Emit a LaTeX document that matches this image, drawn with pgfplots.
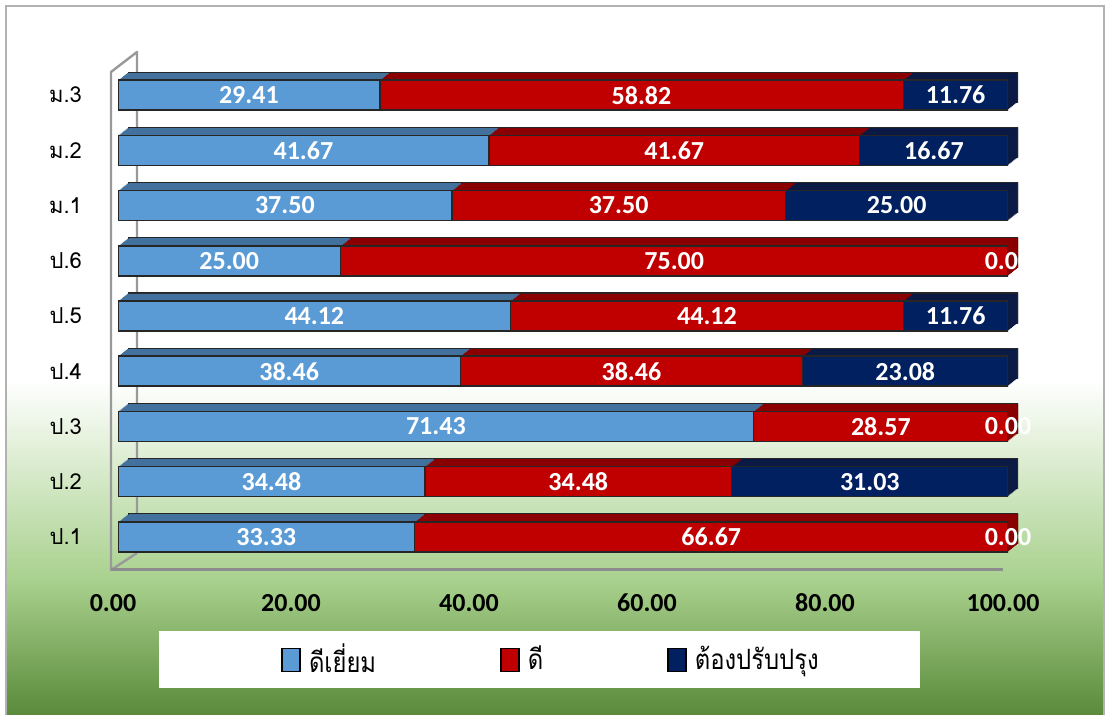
\documentclass[border=0pt]{standalone}
\usepackage{pgfplots}
\pgfplotsset{compat=1.18}
\usepackage{pgfplotstable}
\usepackage{fontspec}
\setmainfont{Carlito}
\newfontfamily\thai[Script=Thai]{Loma}
\newfontfamily\thaileg[Script=Thai,FakeStretch=0.85]{Loma}
\definecolor{cBlue}{HTML}{5B9BD5}
\definecolor{cRed}{HTML}{C00000}
\definecolor{cNavy}{HTML}{002060}
\definecolor{dBlue}{HTML}{41719C}
\definecolor{dRed}{HTML}{8A0000}
\definecolor{dNavy}{HTML}{0B1A44}
\definecolor{gLight}{HTML}{A9D18E}
\definecolor{gDark}{HTML}{5A8A3A}
\pgfplotstableread{
cat ex good imp
0 33.33 66.67 0.00
1 34.48 34.48 31.03
2 71.43 28.57 0.00
3 38.46 38.46 23.08
4 44.12 44.12 11.76
5 25.00 75.00 0.00
6 37.50 37.50 25.00
7 41.67 41.67 16.67
8 29.41 58.82 11.76
}\datatable
% label positions: middle of each segment
\pgfplotstableread{
x y lab
16.665 0 33.33
66.665 0 66.67
100 0 0.00
17.24 1 34.48
51.72 1 34.48
84.475 1 31.03
35.715 2 71.43
85.715 2 28.57
100 2 0.00
19.23 3 38.46
57.69 3 38.46
88.46 3 23.08
22.06 4 44.12
66.18 4 44.12
94.12 4 11.76
12.5 5 25.00
62.5 5 75.00
100 5 0.00
18.75 6 37.50
56.25 6 37.50
87.5 6 25.00
20.835 7 41.67
62.505 7 41.67
91.675 7 16.67
14.705 8 29.41
58.82 8 58.82
94.11 8 11.76
}\labtable
\pgfplotsset{
  base/.style={width=445pt,height=254pt,scale only axis,
    xmin=0,xmax=100,ymin=-0.6,ymax=8.6},
  bars/.style={base,xbar stacked,bar width=15pt},
}
\begin{document}
\begin{tikzpicture}[x=1pt,y=1pt]
\path[use as bounding box] (0,0) rectangle (555,357.5);
\fill[white] (0,0) rectangle (555,357.5);
\fill[top color=white,bottom color=gLight] (3,167.5) rectangle (552,67.5);
\fill[top color=gLight,bottom color=gDark] (3,67.6) rectangle (552,0);
\draw[black!30,line width=0.6pt] (3,0) -- (3,354.5) -- (552,354.5) -- (552,0);
% walls and floor
\draw[black!40,line width=1.2pt,line join=round] (68.5,81) -- (68.5,331.5) -- (55.5,321.5) -- (55.5,72.5) -- (68.5,81);
\draw[black!45,line width=1.5pt] (55.5,72.5) -- (501.5,72.5);
% legend box
\fill[white] (79.5,42) rectangle (460,13.5);
% depth of the bars (back copies)
\begin{axis}[bars,hide axis,at={(64pt,76.5pt)},anchor=south west]
\addplot[fill=dBlue,draw=black!85,line width=0.6pt] table[x=ex,y=cat]{\datatable};
\addplot[fill=dRed,draw=black!85,line width=0.6pt] table[x=good,y=cat]{\datatable};
\addplot[fill=dNavy,draw=black!85,line width=0.6pt] table[x=imp,y=cat]{\datatable};
\end{axis}
\foreach \k in {7,6,5,4,3,2,1}{
\begin{axis}[bars,hide axis,at={({59pt+0.625pt*\k},{72.5pt+0.5pt*\k})},anchor=south west]
\addplot[fill=dBlue,draw=none] table[x=ex,y=cat]{\datatable};
\addplot[fill=dRed,draw=none] table[x=good,y=cat]{\datatable};
\addplot[fill=dNavy,draw=none] table[x=imp,y=cat]{\datatable};
\end{axis}
}
% front faces
\begin{axis}[bars,at={(59pt,72.5pt)},anchor=south west,
  axis line style={draw=none},major tick length=0pt,
  xtick={0,20,40,60,80,100},ytick={0,1,2,3,4,5,6,7,8},
  yticklabels={ป.1,ป.2,ป.3,ป.4,ป.5,ป.6,ม.1,ม.2,ม.3},
  yticklabel style={font=\thai\fontsize{11}{13}\selectfont,xshift=-14.5pt},
  xticklabel={\pgfmathprintnumber[fixed,fixed zerofill,precision=2,assume math mode=true]{\tick}},
  xticklabel style={font=\bfseries\fontsize{13}{15}\selectfont,anchor=center,yshift=-16.5pt,xshift=-2.5pt},
  legend style={at={(0.4877,-0.1762)},anchor=center,draw=none,fill=none,legend columns=3,
    font=\thaileg\fontsize{14}{16}\selectfont,
    /tikz/every odd column/.append style={column sep=2pt},
    /tikz/every even column/.append style={column sep=60pt}},
  legend image code/.code={\draw[#1,draw=black,line width=0.8pt] (0pt,-6pt) rectangle (9pt,5.5pt);},
]
\addplot[fill=cBlue,draw=black!85,line width=0.75pt] table[x=ex,y=cat]{\datatable};
\addplot[fill=cRed,draw=black!85,line width=0.75pt] table[x=good,y=cat]{\datatable};
\addplot[fill=cNavy,draw=black!85,line width=0.75pt] table[x=imp,y=cat]{\datatable};
\legend{ดีเยี่ยม,ดี,ต้องปรับปรุง}
\end{axis}
% value labels
\begin{axis}[base,hide axis,clip=false,at={(59pt,72.5pt)},anchor=south west]
\addplot[only marks,mark=*,mark size=0pt,mark options={draw=none,fill=none},
  point meta=explicit symbolic,nodes near coords,
  every node near coord/.append style={font=\bfseries\fontsize{13}{15}\selectfont,text=white,anchor=center}]
  table[x=x,y=y,meta=lab]{\labtable};
\end{axis}
\end{tikzpicture}
\end{document}
